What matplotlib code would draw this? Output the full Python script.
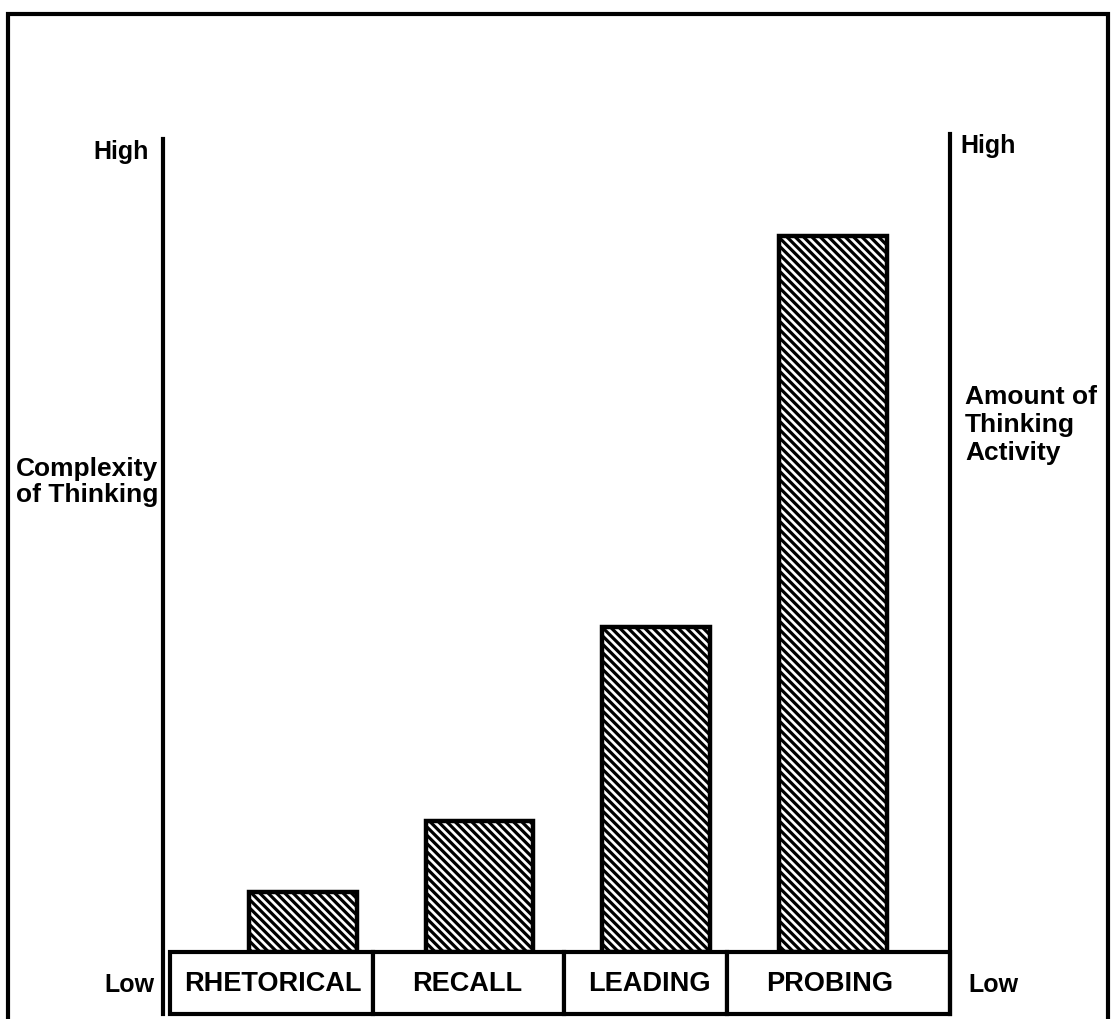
import matplotlib
matplotlib.use("Agg")
import matplotlib.pyplot as plt
from matplotlib.patches import Rectangle
import numpy as np

# question types and how much thinking they call for (0 = Low, 100 = High)
categories = ["RHETORICAL", "RECALL", "LEADING", "PROBING"]
thinking = [7.4, 16.1, 40.0, 88.1]

left_label = "Complexity\nof Thinking"
right_label = "Amount of\nThinking\nActivity"

plt.rcParams['font.family'] = ['Liberation Sans', 'DejaVu Sans']
plt.rcParams['font.weight'] = 'bold'
plt.rcParams['hatch.linewidth'] = 2.3

W, H = 1117, 1020
fig = plt.figure(figsize=(W / 100, H / 100), dpi=100)


def fx(px):
    return px / W


def fy(py):
    return 1 - py / H


# plot area: between the two vertical rules, baseline to "High"
ax = fig.add_axes([fx(163), fy(953), fx(950) - fx(163), fy(140) - fy(953)])
x = np.arange(len(categories))
ax.bar(x, thinking, width=0.61, color='white', edgecolor='black',
       hatch='\\\\\\\\', linewidth=3.2)
ax.set_xlim(-0.793, 3.664)
ax.set_ylim(0, 100)
ax.axis('off')

lw = 3
box_h = 62 / 813.0
# vertical rules, running down past the label boxes
ax.plot([0, 0], [-box_h, 1], color='black', lw=lw, transform=ax.transAxes, clip_on=False)
ax.plot([1, 1], [-box_h, 1.006], color='black', lw=lw, transform=ax.transAxes, clip_on=False)

# label boxes under the bars
box_edges = [-0.754, 0.396, 1.478, 2.401, 3.664]
label_pos = [-0.17, 0.93, 1.96, 2.98]
trans = ax.get_xaxis_transform()
for i, name in enumerate(categories):
    x0, x1 = box_edges[i], box_edges[i + 1]
    ax.add_patch(Rectangle((x0, -box_h), x1 - x0, box_h, transform=trans,
                           facecolor='white', edgecolor='black', lw=lw, clip_on=False))
    ax.text(label_pos[i], -box_h / 2, name, transform=trans, ha='center', va='center',
            fontsize=19.5, fontweight='bold')

# outer frame (bottom edge is cut off in the scan)
fig.patches.append(Rectangle((fx(8), fy(1040)), fx(1108) - fx(8), fy(15) - fy(1040),
                             transform=fig.transFigure, fill=False, edgecolor='black', lw=lw))

fs = 18
fig.text(fx(149), fy(152), "High", ha='right', va='center', fontsize=fs, fontweight='bold')
fig.text(fx(155), fy(985), "Low", ha='right', va='center', fontsize=fs, fontweight='bold')
fig.text(fx(960), fy(146), "High", ha='left', va='center', fontsize=fs, fontweight='bold')
fig.text(fx(968), fy(985), "Low", ha='left', va='center', fontsize=fs, fontweight='bold')
fig.text(fx(16), fy(482), left_label, ha='left', va='center', fontsize=19,
         fontweight='bold', linespacing=1.12)
fig.text(fx(965), fy(425), right_label, ha='left', va='center', fontsize=19,
         fontweight='bold', linespacing=1.2)

fig.savefig("out.png", dpi=100)
